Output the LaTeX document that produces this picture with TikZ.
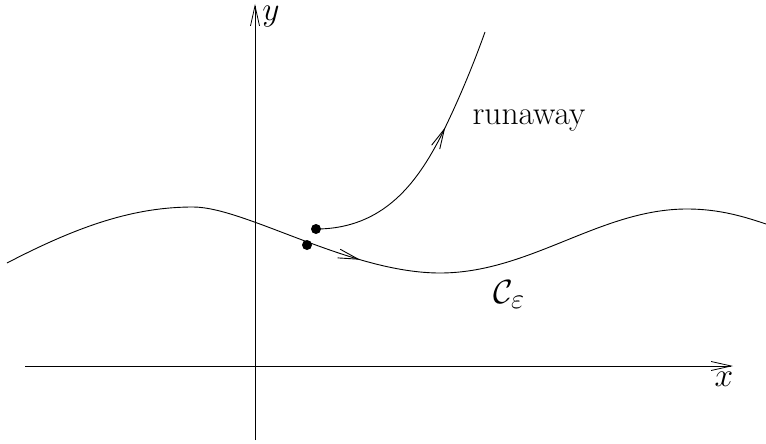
\RequirePackage{fix-cm}
\documentclass[tikz,border=0pt]{standalone}
\usetikzlibrary{arrows.meta,decorations.markings}
\begin{document}
\begin{tikzpicture}[x=1pt,y=-1pt,
  tip/.tip={Straight Barb[length=20pt,width=9pt]},
  axis/.style={line width=0.8pt,-tip},
  curve/.style={line width=0.9pt},
  midarrow/.style={postaction={decorate},decoration={markings,mark=at position #1 with {\arrow{tip}}}},
  lbl/.style={font=\fontsize{33.5}{38}\selectfont,inner sep=0pt},
  dot/.style={circle,fill=black,inner sep=0pt,minimum size=10pt}]
\useasboundingbox (0,0) rectangle (766,444);
\coordinate (xs) at (25,366);
\coordinate (xe) at (733,366);
\coordinate (ys) at (255,440);
\coordinate (ye) at (255,4);
\draw[axis] (xs) -- (xe);
\draw[axis] (ys) -- (ye);
\node[lbl] (xl) at (724,379) {$x$};
\node[lbl] (yl) at (271,17) {$y$};
\draw[curve,midarrow=372pt] (7,263) .. controls (80,225) and (135,207) .. (193,207)
  .. controls (245,207) and (350,273) .. (440,273)
  .. controls (530,273) and (600,209) .. (687,209)
  .. controls (720,209) and (745,217) .. (766,224);
\node[dot] (p1) at (307,245) {};
\node[dot] (p2) at (316,229) {};
\draw[curve,midarrow=175pt] (p2.center) .. controls (385,229) and (418,180) .. (440,138) .. controls (460,98) and (475,60) .. (485,32);
\node[lbl] (rw) at (529,120) {runaway};
\node[lbl] (ce) at (509,295) {$\mathcal{C}_{\scalebox{0.85}{$\varepsilon$}}$};
\end{tikzpicture}
\end{document}
